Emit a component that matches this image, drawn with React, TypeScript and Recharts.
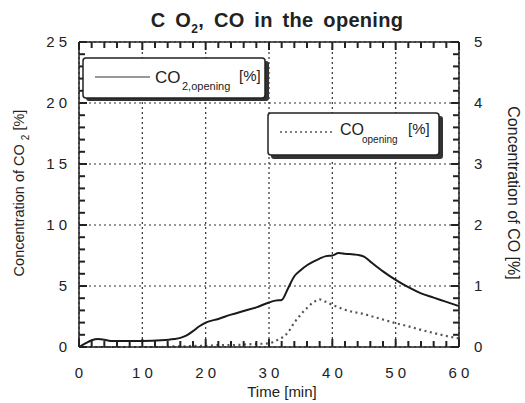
import { LineChart, Line, XAxis, YAxis, CartesianGrid } from 'recharts'

// time [min]
const times = [0, 1, 2, 3, 4, 5, 7, 10, 13, 15, 16, 17, 18, 19, 20, 22, 24, 26, 28, 30, 31, 32, 33, 34, 35, 36, 37, 38, 39, 40, 41, 42, 44, 45, 46, 48, 50, 52, 54, 56, 58, 60]
// CO2 in the opening [%] (left axis)
const co2Opening = [0, 0.3, 0.55, 0.65, 0.6, 0.5, 0.5, 0.5, 0.55, 0.65, 0.75, 0.95, 1.3, 1.7, 2.0, 2.3, 2.65, 2.95, 3.25, 3.65, 3.8, 3.85, 4.8, 5.8, 6.3, 6.7, 7.0, 7.25, 7.45, 7.5, 7.7, 7.65, 7.55, 7.4, 7.0, 6.2, 5.5, 4.9, 4.4, 4.05, 3.7, 3.35]
// CO in the opening [%] (right axis)
const coOpening = [0, 0, 0, 0, 0, 0, 0, 0, 0, 0.01, 0.01, 0.01, 0.02, 0.02, 0.02, 0.03, 0.03, 0.04, 0.05, 0.06, 0.1, 0.15, 0.24, 0.4, 0.53, 0.64, 0.73, 0.78, 0.74, 0.69, 0.65, 0.61, 0.56, 0.54, 0.51, 0.45, 0.39, 0.34, 0.28, 0.23, 0.18, 0.14]

// labelled ticks / grid lines
const xTicks = [0, 10, 20, 30, 40, 50, 60]
const co2Ticks = [0, 5, 10, 15, 20, 25]

// every tick mark along the frame (minor + major)
const xMinor = Array.from({ length: 31 }, (_, i) => i * 2)
const co2Minor = Array.from({ length: 26 }, (_, i) => i)
const coMinor = Array.from({ length: 26 }, (_, i) => Math.round(i * 2) / 10)

const data = times.map((t, i) => ({ t, co2: co2Opening[i], co: coOpening[i] }))

const FONT = '"Liberation Sans", Arial, sans-serif'
const INK = '#222'
const spaced = (v: number) => String(v).split('').join(' ')
const isInt = (v: number) => Math.abs(v - Math.round(v)) < 1e-6

function BottomTick(props: any) {
  const { x, y, payload } = props
  const v = payload.value
  const major = v % 10 === 0
  return (
    <g>
      <path d={major ? `M${x},${y}v-8` : `M${x},${y}v-6`} stroke="#222" strokeWidth={2} fill="none" />
      {major && <text x={x} y={y + 31} textAnchor="middle" fontSize={15} fill={INK} fontFamily={FONT}>{spaced(v)}</text>}
    </g>
  )
}

function TopTick(props: any) {
  const { x, y, payload } = props
  const major = payload.value % 10 === 0
  return <path d={major ? `M${x},${y}v8` : `M${x},${y}v6`} stroke="#222" strokeWidth={2} fill="none" />
}

function LeftTick(props: any) {
  const { x, y, payload } = props
  const v = payload.value
  const major = v % 5 === 0
  return (
    <g>
      <path d={major ? `M${x},${y}h8` : `M${x},${y}h6`} stroke="#222" strokeWidth={2} fill="none" />
      {major && <text x={x - 12} y={y + 5} textAnchor="end" fontSize={15} fill={INK} fontFamily={FONT}>{spaced(v)}</text>}
    </g>
  )
}

function RightTick(props: any) {
  const { x, y, payload } = props
  const v = payload.value
  const major = isInt(v)
  return (
    <g>
      <path d={major ? `M${x},${y}h-8` : `M${x},${y}h-6`} stroke="#222" strokeWidth={2} fill="none" />
      {major && <text x={x + 15} y={y + 5} textAnchor="start" fontSize={15} fill={INK} fontFamily={FONT}>{Math.round(v)}</text>}
    </g>
  )
}

export default function App() {
  return (
    <div style={{ position: 'absolute', left: 0, top: 0, width: 525, height: 403, background: '#fff', fontFamily: FONT }}>
      <LineChart width={525} height={403} data={data} margin={{ top: 0, right: 0, bottom: 0, left: 0 }}>
        <CartesianGrid
          xAxisId="x" yAxisId="co2" stroke="#333" strokeWidth={1.2} strokeDasharray="2 3"
          verticalValues={xTicks} horizontalValues={co2Ticks}
        />
        <XAxis
          xAxisId="x" dataKey="t" type="number" domain={[0, 60]} ticks={xMinor} interval={0} height={56}
          tickSize={0} tickMargin={0} tick={BottomTick} tickLine={false}
          axisLine={{ stroke: INK, strokeWidth: 1.5 }}
        />
        <XAxis
          xAxisId="top" orientation="top" dataKey="t" type="number" domain={[0, 60]} ticks={xMinor} interval={0} height={42}
          tickSize={0} tickMargin={0} tick={TopTick} tickLine={false}
          axisLine={{ stroke: INK, strokeWidth: 1.5 }}
        />
        <YAxis
          yAxisId="co2" type="number" domain={[0, 25]} ticks={co2Minor} interval={0} width={79}
          tickSize={0} tickMargin={0} tick={LeftTick} tickLine={false}
          axisLine={{ stroke: INK, strokeWidth: 1.5 }}
        />
        <YAxis
          yAxisId="co" orientation="right" type="number" domain={[0, 5]} ticks={coMinor} interval={0} width={66}
          tickSize={0} tickMargin={0} tick={RightTick} tickLine={false}
          axisLine={{ stroke: INK, strokeWidth: 1.5 }}
        />
        <Line
          xAxisId="x" yAxisId="co2" type="monotone" dataKey="co2" stroke="#1a1a1a" strokeWidth={2}
          dot={false} isAnimationActive={false}
        />
        <Line
          xAxisId="x" yAxisId="co" type="monotone" dataKey="co" stroke="#555" strokeWidth={2.2}
          strokeDasharray="2 3.5" dot={false} isAnimationActive={false}
        />
      </LineChart>

      <svg width={525} height={403} style={{ position: 'absolute', left: 0, top: 0, pointerEvents: 'none' }} fontFamily={FONT} fill={INK}>
        <text x={277} y={27} textAnchor="middle" fontSize={20} fontWeight="bold" wordSpacing={4} letterSpacing={0.3}>
          C O<tspan dy={6} fontSize={12}>2</tspan><tspan dy={-6}>, CO in the opening</tspan>
        </text>

        <text transform="rotate(-90)" x={-193} y={24} textAnchor="middle" fontSize={14.5}>
          Concentration of CO <tspan dy={5} fontSize={10}>2</tspan><tspan dy={-5}> [%]</tspan>
        </text>
        <text transform="rotate(90)" x={193} y={-508} textAnchor="middle" fontSize={16}>
          Concentration of CO [%]
        </text>
        <text x={282} y={397} textAnchor="middle" fontSize={15}>Time [min]</text>

        {/* legend: CO2 */}
        <rect x={86} y={61} width={183} height={40} rx={3} fill="#333" />
        <rect x={83} y={58} width={182} height={40} rx={3} fill="#fff" stroke={INK} strokeWidth={1.5} />
        <line x1={95} y1={77} x2={150} y2={77} stroke="#333" strokeWidth={1.2} />
        <text x={155} y={83} fontSize={17}>CO</text>
        <text x={182} y={90} fontSize={11}>2,opening</text>
        <text x={239} y={81} fontSize={15}>[%]</text>

        {/* legend: CO */}
        <rect x={271} y={116} width={172} height={43} rx={3} fill="#333" />
        <rect x={268} y={113} width={171} height={42} rx={3} fill="#fff" stroke={INK} strokeWidth={1.5} />
        <line x1={280} y1={132} x2={335} y2={132} stroke="#555" strokeWidth={1.6} strokeDasharray="2 3" />
        <text x={340} y={135} fontSize={16}>CO</text>
        <text x={362} y={143} fontSize={10}>opening</text>
        <text x={408} y={134} fontSize={15}>[%]</text>
      </svg>
    </div>
  )
}
